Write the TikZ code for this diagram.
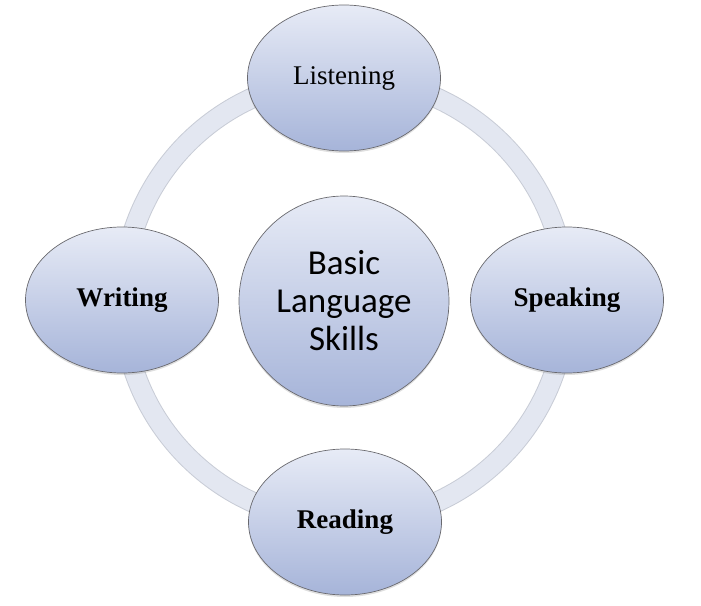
\documentclass[tikz,border=0pt]{standalone}
\usepackage{fontspec}
\setmainfont{Liberation Serif}
\newfontfamily\corefont{Carlito}
\usetikzlibrary{
    shapes.geometric,
    shadows,
    positioning
}
\definecolor{ringcol}{RGB}{227,231,241}
\definecolor{ringedge}{RGB}{200,204,214}
\definecolor{topcol}{RGB}{231,235,246}
\definecolor{botcol}{RGB}{166,180,217}
\definecolor{edgecol}{RGB}{105,105,110}
\tikzset{
    skill/.style={ellipse, draw=edgecol, line width=0.7pt,
        top color=topcol, bottom color=botcol,
        minimum width=193pt, minimum height=146pt, inner sep=0pt,
        drop shadow={shadow xshift=0pt, shadow yshift=-2pt, opacity=0.25},
        font=\fontsize{27}{30}\selectfont},
    core/.style={circle, draw=edgecol, line width=0.7pt,
        top color=topcol, bottom color=botcol,
        minimum size=210pt, inner sep=0pt, align=center,
        drop shadow={shadow xshift=0pt, shadow yshift=-2pt, opacity=0.25},
        font=\corefont\fontsize{35}{38}\selectfont}
}

\begin{document}
\begin{tikzpicture}[x=1pt, y=1pt]
    \useasboundingbox (0, 0) rectangle (701, -605);
    \coordinate (mid) at (344.5, -300);
    \draw[ringedge, line width=21pt] (mid) circle (222pt);
    \draw[ringcol, line width=19pt] (mid) circle (222pt);
    \node[core] (basic) at (344, -301) {Basic\\Language\\Skills};
    \node[skill] (listen) at (344, -78) {Listening};
    \node[skill, font=\fontsize{27}{30}\selectfont\bfseries] (speak) at (567, -300) {Speaking};
    \node[skill, font=\fontsize{27}{30}\selectfont\bfseries] (read) at (345, -522) {Reading};
    \node[skill, font=\fontsize{27}{30}\selectfont\bfseries] (write) at (122, -300) {Writing};
\end{tikzpicture}
\end{document}
